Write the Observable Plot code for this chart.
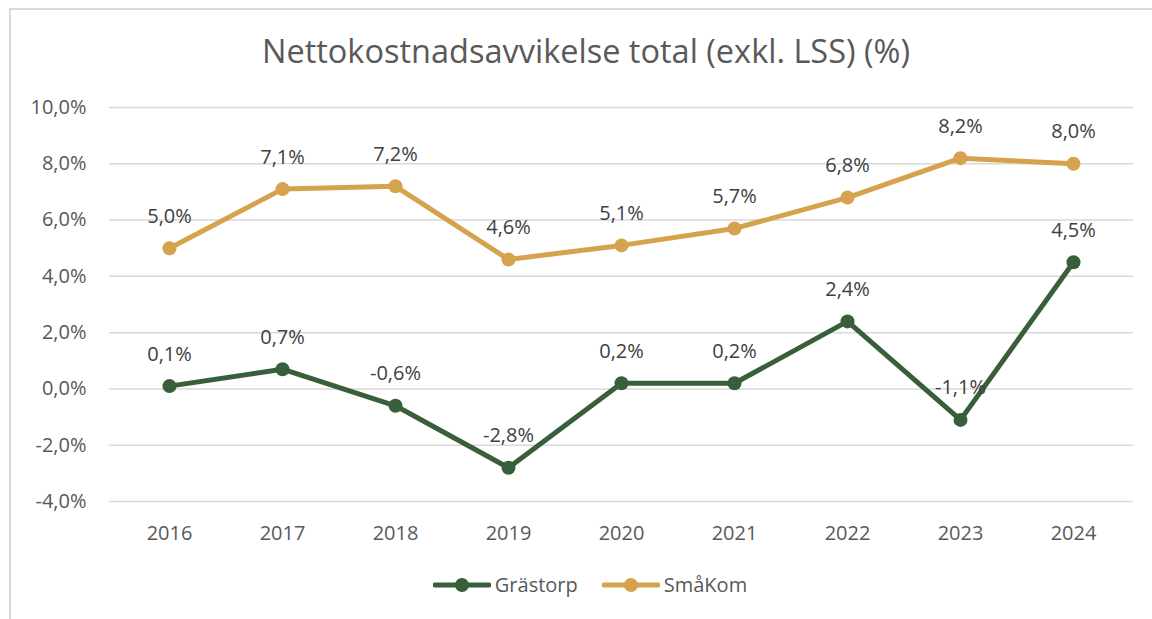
<!DOCTYPE html>
<html>
<head>
<meta charset="utf-8">
<script src="https://cdn.jsdelivr.net/npm/d3@7"></script>
<script src="https://cdn.jsdelivr.net/npm/@observablehq/plot@0.6"></script>
<style>
  html, body { margin: 0; padding: 0; background: #fff; }
  #wrap { position: relative; width: 1152px; height: 619px; overflow: hidden; font-family: "Open Sans", sans-serif; }
  #frame { position: absolute; left: 9px; top: 8px; width: 1160px; height: 640px; border-left: 2px solid #d9d9d9; border-top: 2px solid #d9d9d9; box-sizing: border-box; }
  #title { position: absolute; left: 0; width: 1172px; top: 30px; text-align: center; font-size: 32.5px; color: #595959; line-height: 42px; }
  #chart { position: absolute; left: 0; top: 0; }
  #legend { position: absolute; left: 0; width: 1180px; top: 571px; display: flex; justify-content: center; align-items: center; gap: 24px; font-size: 20px; color: #595959; }
  .item { display: flex; align-items: center; gap: 4px; }
</style>
</head>
<body>
<div id="wrap">
  <div id="frame"></div>
  <div id="chart"></div>
  <div id="title">Nettokostnadsavvikelse total (exkl. LSS) (%)</div>
  <div id="legend"></div>
</div>
<script>
const years = ["2016","2017","2018","2019","2020","2021","2022","2023","2024"];
const grastorp = [0.1, 0.7, -0.6, -2.8, 0.2, 0.2, 2.4, -1.1, 4.5];
const smakom = [5.0, 7.1, 7.2, 4.6, 5.1, 5.7, 6.8, 8.2, 8.0];
const yTicks = [-4, -2, 0, 2, 4, 6, 8, 10];
const seriesNames = ["Grästorp", "SmåKom"];
const colors = ["#385e3b", "#d5a24d"];

const fmt = v => v.toFixed(1).replace(".", ",") + "%";
const data = [];
years.forEach((y, i) => {
  data.push({year: y, value: grastorp[i], series: seriesNames[0]});
  data.push({year: y, value: smakom[i], series: seriesNames[1]});
});

const chart = Plot.plot({
  width: 1152,
  height: 619,
  marginTop: 107,
  marginBottom: 118,
  marginLeft: 109,
  marginRight: 19,
  style: {fontFamily: "Open Sans, sans-serif", fontSize: "20px", background: "transparent"},
  x: {type: "point", domain: years, padding: 0.5, label: null},
  y: {domain: [-4, 10], label: null},
  color: {domain: seriesNames, range: colors},
  marks: [
    Plot.gridY(yTicks, {stroke: "#d9d9d9", strokeOpacity: 1, strokeWidth: 1.5}),
    Plot.axisY(yTicks, {tickSize: 0, tickPadding: 23, tickFormat: fmt, fontSize: 20, fill: "#595959", label: null}),
    Plot.axisX(years, {tickSize: 0, tickPadding: 24, fontSize: 20, fill: "#595959", label: null}),
    Plot.line(data, {x: "year", y: "value", z: "series", stroke: "series", strokeWidth: 5, strokeLinejoin: "round"}),
    Plot.dot(data, {x: "year", y: "value", fill: "series", r: 7}),
    Plot.text(data, {x: "year", y: "value", text: d => fmt(d.value), dy: -32, fontSize: 20, fill: "#404040"})
  ]
});
document.getElementById("chart").appendChild(chart);

const legend = document.getElementById("legend");
seriesNames.forEach((name, i) => {
  const item = document.createElement("div");
  item.className = "item";
  item.innerHTML = `<svg width="58" height="16"><line x1="2" y1="8" x2="56" y2="8" stroke="${colors[i]}" stroke-width="5" stroke-linecap="round"/><circle cx="29" cy="8" r="7" fill="${colors[i]}"/></svg><span>${name}</span>`;
  legend.appendChild(item);
});
</script>
</body>
</html>
